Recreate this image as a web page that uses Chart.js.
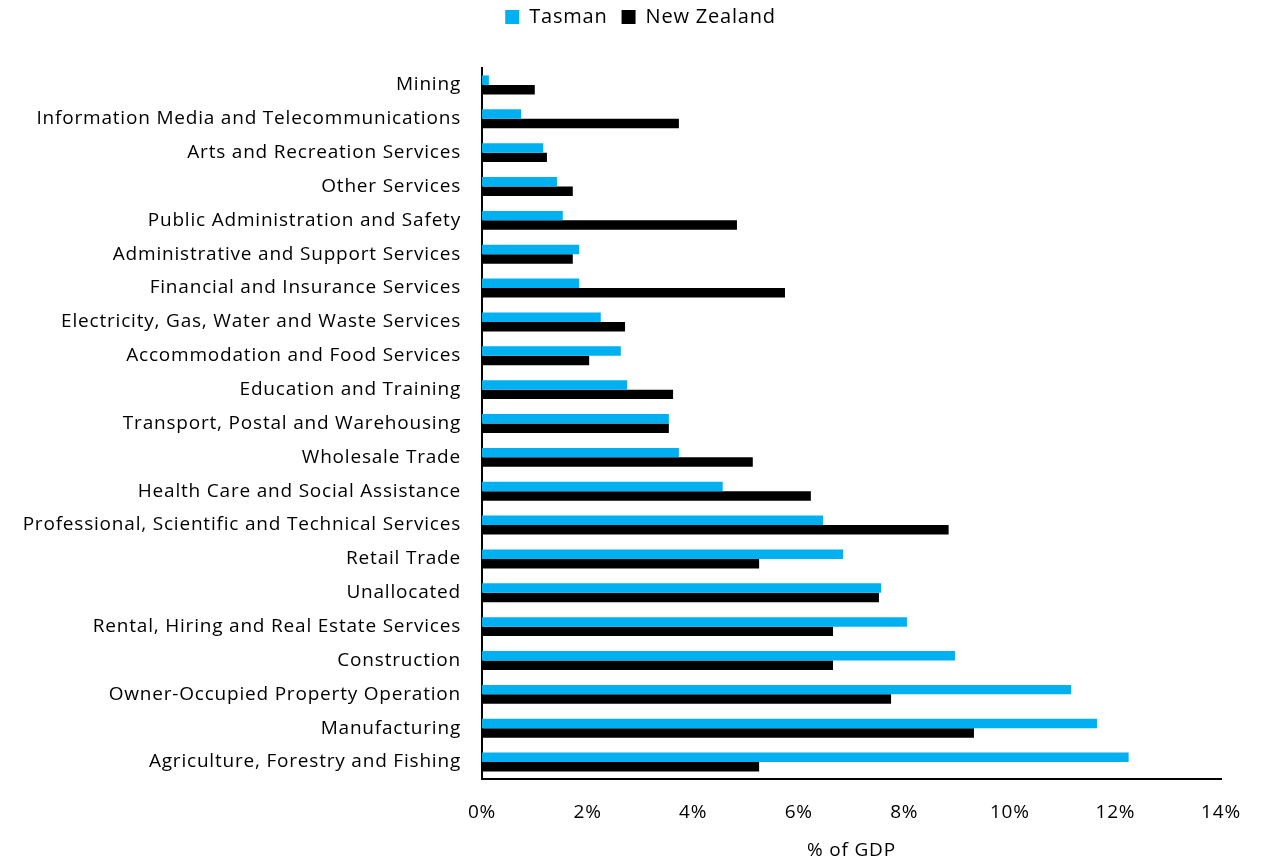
<!DOCTYPE html>
<html>
<head>
<meta charset="utf-8">
<script src="https://cdn.jsdelivr.net/npm/chart.js@4"></script>
<style>
html,body{margin:0;padding:0;background:#fff;}
#wrap{width:1271px;height:862px;position:relative;}
</style>
</head>
<body>
<div id="wrap"><canvas id="gdpChart"></canvas></div>
<script>
// industries, top to bottom
const industries=['Mining','Information Media and Telecommunications','Arts and Recreation Services','Other Services','Public Administration and Safety','Administrative and Support Services','Financial and Insurance Services','Electricity, Gas, Water and Waste Services','Accommodation and Food Services','Education and Training','Transport, Postal and Warehousing','Wholesale Trade','Health Care and Social Assistance','Professional, Scientific and Technical Services','Retail Trade','Unallocated','Rental, Hiring and Real Estate Services','Construction','Owner-Occupied Property Operation','Manufacturing','Agriculture, Forestry and Fishing'];
const tasman=[0.13,0.74,1.16,1.42,1.53,1.84,1.84,2.25,2.63,2.75,3.54,3.73,4.56,6.46,6.84,7.56,8.05,8.96,11.16,11.65,12.25];
const newZealand=[1.00,3.73,1.23,1.72,4.83,1.72,5.74,2.71,2.03,3.62,3.54,5.13,6.23,8.84,5.25,7.52,6.65,6.65,7.75,9.32,5.25];
const xTicks=[0,2,4,6,8,10,12,14];

const FONT='"Open Sans", sans-serif';

// legend box height fixed so the plot starts at the same place; legend centred on the whole chart
const legendTweak={id:'legendTweak',
  beforeInit(chart){
    const fit=chart.legend.fit;
    chart.legend.fit=function(){fit.bind(chart.legend)();this.height=68;};
  },
  beforeUpdate(chart){chart.ctx.letterSpacing='0.8px';},
  afterLayout(chart){const l=chart.legend;l.left+=30;l.right+=30;l.top-=7;},
  beforeDraw(chart){chart.ctx.letterSpacing='0.8px';}
};

new Chart(document.getElementById('gdpChart'),{
  type:'bar',
  data:{labels:industries,datasets:[
    {label:'Tasman',data:tasman,backgroundColor:'#00B0F0',borderWidth:0,categoryPercentage:0.56,barPercentage:1},
    {label:'New Zealand',data:newZealand,backgroundColor:'#000000',borderWidth:0,categoryPercentage:0.56,barPercentage:1}
  ]},
  options:{
    indexAxis:'y',responsive:true,maintainAspectRatio:false,animation:false,
    layout:{padding:{left:0,right:50,top:0,bottom:0}},
    plugins:{
      legend:{position:'top',labels:{boxWidth:14,boxHeight:14,padding:14,color:'#000',font:{family:FONT,size:20}}},
      tooltip:{enabled:false}
    },
    scales:{
      x:{min:0,max:14,
        afterBuildTicks:s=>{s.ticks=xTicks.map(v=>({value:v}));},
        afterFit:s=>{s.height=83;},
        grid:{display:false,drawTicks:false},
        border:{display:true,color:'#000',width:2},
        ticks:{padding:22,color:'#000',font:{family:FONT,size:19},callback:v=>v+'%'},
        title:{display:true,text:'% of GDP',color:'#000',padding:{top:0,bottom:0},font:{family:FONT,size:19}}
      },
      y:{
        afterFit:s=>{s.width=482;},
        grid:{display:false,drawTicks:false},
        border:{display:true,color:'#000',width:2},
        ticks:{padding:21,color:'#000',autoSkip:false,font:{family:FONT,size:19}}
      }
    }
  },
  plugins:[legendTweak]
});
</script>
</body>
</html>
